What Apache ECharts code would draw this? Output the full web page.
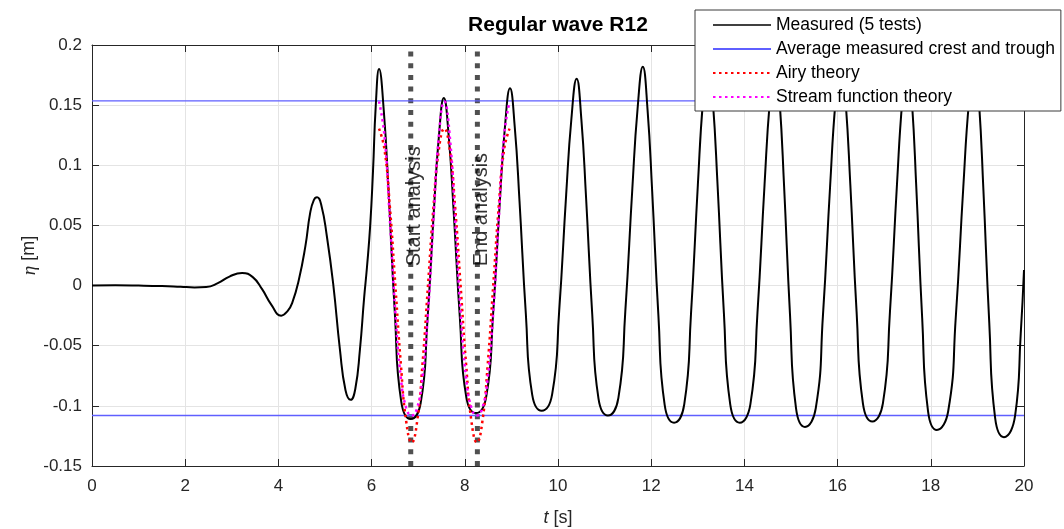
<!DOCTYPE html>
<html><head><meta charset="utf-8">
<script src="https://cdn.jsdelivr.net/npm/echarts@6/dist/echarts.min.js"></script>
<style>html,body{margin:0;padding:0;background:#fff}#c{width:1064px;height:529px}</style>
</head><body><div id="c"></div>
<script>
// ---- data ----
const measuredT = [0,0.5,1.0,1.5,1.9,2.2,2.45,2.7,2.95,3.22,3.45,3.65,3.85,4.06,4.2,4.3,4.44,4.58,4.68,4.76,4.83,4.92,5.04,5.18,5.32,5.44,5.55,5.65,5.75,5.84,5.9,5.97,6.03,6.09,6.16,
6.262,6.364,6.5,6.636,6.84,7.053,7.195,7.337,7.444,7.55,7.654,7.757,7.895,8.033,8.24,8.459,8.605,8.751,8.861,8.97,
9.072,9.174,9.31,9.446,9.65,9.875,10.025,10.175,10.288,10.4,10.501,10.601,10.735,10.869,11.07,11.295,11.445,11.595,11.708,11.82,
11.921,12.021,12.155,12.289,12.49,12.709,12.855,13.001,13.111,13.22,13.322,13.424,13.56,13.696,13.9,14.128,14.28,14.432,14.546,14.66,
14.756,14.852,14.98,15.108,15.3,15.531,15.685,15.839,15.955,16.07,16.171,16.273,16.408,16.543,16.745,16.972,17.123,17.274,17.388,17.5,
17.595,17.689,17.815,17.941,18.13,18.373,18.535,18.697,18.819,18.94,19.035,19.129,19.255,19.381,19.57,19.81,19.93,20.0];
const measuredEta = [0,0.0002,0,-0.0004,-0.001,-0.0015,-0.0012,0.002,0.0075,0.0105,0.007,-0.003,-0.016,-0.025,-0.021,-0.014,0.005,0.033,0.06,0.071,0.0734,0.067,0.041,0.0,-0.053,-0.087,-0.095,-0.086,-0.053,-0.01,0.015,0.05,0.095,0.15,0.18,
0.1451,0.0782,-0.0237,-0.0965,-0.111,-0.0977,-0.0309,0.0626,0.124,0.156,0.1246,0.0643,-0.0274,-0.0929,-0.106,-0.0925,-0.025,0.0695,0.1316,0.164,
0.1318,0.0702,-0.0236,-0.0906,-0.104,-0.0902,-0.0212,0.0754,0.1389,0.172,0.1384,0.074,-0.024,-0.094,-0.108,-0.0935,-0.021,0.0805,0.1472,0.182,
0.1465,0.0784,-0.0252,-0.0992,-0.114,-0.0988,-0.0228,0.0836,0.1535,0.19,0.1535,0.0836,-0.0228,-0.0988,-0.114,-0.0988,-0.0228,0.0836,0.1535,0.19,
0.1531,0.0824,-0.0252,-0.1021,-0.1175,-0.1021,-0.0252,0.0824,0.1531,0.19,0.1536,0.084,-0.0221,-0.0979,-0.113,-0.0979,-0.0221,0.084,0.1536,0.19,
0.1528,0.0815,-0.027,-0.1045,-0.12,-0.1045,-0.027,0.0815,0.1528,0.19,0.1521,0.0794,-0.0312,-0.1102,-0.126,-0.108,-0.04,0.013];

const avgCrest = 0.1535;
const avgTrough = -0.108;

const theoryT = [6.16,6.277,6.393,6.51,6.627,6.743,6.86,6.977,7.093,7.21,7.327,7.443,7.56,7.677,7.793,7.91,8.027,8.143,8.26,8.377,8.493,8.61,8.727,8.843,8.96];
const airyEta = [0.1305,0.113,0.065,0,-0.065,-0.113,-0.1305,-0.113,-0.065,0,0.065,0.113,0.1305,0.113,0.065,0,-0.065,-0.113,-0.1305,-0.113,-0.065,0,0.065,0.113,0.1305];
const streamEta = [0.153,0.1243,0.054,-0.0225,-0.0765,-0.1018,-0.108,-0.1018,-0.0765,-0.0225,0.054,0.1243,0.153,0.1243,0.054,-0.0225,-0.0765,-0.1018,-0.108,-0.1018,-0.0765,-0.0225,0.054,0.1243,0.153];

const analysisT = [6.84, 8.27];
const analysisLabels = ['Start analysis', 'End analysis'];

const xMin = 0, xMax = 20, xStep = 2;
const yMin = -0.15, yMax = 0.2, yStep = 0.05;

const seriesNames = ['Measured (5 tests)', 'Average measured crest and trough', 'Airy theory', 'Stream function theory'];

// ---- chart ----
const FONT = "'Liberation Sans', Arial, Helvetica, sans-serif";
const pairs = (xs, ys) => xs.map((x, i) => [x, ys[i]]);
const INK = '#262626';
const BLUE = '#5f5fff';

const chart = echarts.init(document.getElementById('c'), null, {renderer: 'canvas'});

const axisCommon = {
  axisLine: {show: true, onZero: false, lineStyle: {color: INK, width: 1}},
  axisTick: {show: true, inside: true, length: 7, lineStyle: {color: INK}},
};

const option = {
  animation: false,
  backgroundColor: '#fff',
  textStyle: {fontFamily: FONT},
  title: {
    text: 'Regular wave R12', left: 558, top: 15, textAlign: 'center', padding: 0,
    textStyle: {fontFamily: FONT, fontWeight: 'bold', fontSize: 21, color: '#000'}
  },
  grid: {left: 92, right: 40, top: 45, bottom: 63, containLabel: false, outerBoundsMode: 'none', show: false},
  legend: {
    orient: 'vertical', left: 695, top: 10,
    padding: [6, 6, 5, 17], itemGap: 6, itemWidth: 58, itemHeight: 18,
    backgroundColor: '#fff', borderColor: '#3a3a3a', borderWidth: 1, borderRadius: 0,
    itemStyle: {opacity: 0, color: 'transparent', borderWidth: 0},
    textStyle: {fontSize: 17.5, color: '#000', fontFamily: FONT, lineHeight: 18},
    data: [
      {name: seriesNames[0], lineStyle: {width: 1.5}},
      {name: seriesNames[1]},
      {name: seriesNames[2]},
      {name: seriesNames[3]}
    ]
  },
  xAxis: [
    Object.assign({}, axisCommon, {
      type: 'value', min: xMin, max: xMax, interval: xStep, position: 'bottom',
      axisLabel: {fontSize: 17, color: INK, margin: 12, fontFamily: FONT},
      splitLine: {show: true, lineStyle: {color: '#e4e4e4', width: 1}},
      name: '{i|t} [s]', nameLocation: 'middle', nameGap: 43,
      nameTextStyle: {fontSize: 18, color: INK, fontFamily: FONT,
        rich: {i: {fontStyle: 'italic', fontSize: 18, color: INK, fontFamily: FONT}}}
    }),
    Object.assign({}, axisCommon, {
      type: 'value', min: xMin, max: xMax, interval: xStep, position: 'top',
      axisLabel: {show: false}, splitLine: {show: false}
    })
  ],
  yAxis: [
    Object.assign({}, axisCommon, {
      type: 'value', min: yMin, max: yMax, interval: yStep, position: 'left',
      axisLabel: {fontSize: 17, color: INK, margin: 10, fontFamily: FONT,
        formatter: v => String(+v.toFixed(2))},
      splitLine: {show: true, lineStyle: {color: '#e4e4e4', width: 1}},
      name: '{i|η} [m]', nameLocation: 'middle', nameGap: 53, nameRotate: 90, nameMoveOverlap: false,
      nameTextStyle: {fontSize: 18, color: INK, fontFamily: FONT,
        rich: {i: {fontStyle: 'italic', fontSize: 19, color: INK, fontFamily: "'Liberation Serif', 'DejaVu Serif', serif"}}}
    }),
    Object.assign({}, axisCommon, {
      type: 'value', min: yMin, max: yMax, interval: yStep, position: 'right',
      axisLabel: {show: false}, splitLine: {show: false}
    })
  ],
  series: [
    // analysis markers
    ...analysisT.map((t, i) => ({
      type: 'line', name: 'marker' + i, data: [[t, yMin], [t, yMax]],
      symbol: 'none', silent: true, z: 1,
      lineStyle: {color: '#505050', width: 5, type: [5, 6.7], cap: 'butt'}
    })),
    {
      type: 'line', name: seriesNames[1],
      data: [[xMin, avgCrest], [xMax, avgCrest], [null, null], [xMin, avgTrough], [xMax, avgTrough]],
      connectNulls: false,
      symbol: 'none', z: 2, itemStyle: {color: BLUE}, lineStyle: {color: BLUE, width: 1.3}
    },
    {
      type: 'line', name: seriesNames[0], data: pairs(measuredT, measuredEta),
      symbol: 'none', smooth: 0.5, z: 3,
      itemStyle: {color: '#000'},
      lineStyle: {color: '#000', width: 2}
    },
    {
      type: 'line', name: seriesNames[2], data: pairs(theoryT, airyEta),
      symbol: 'none', smooth: 0.5, z: 4, itemStyle: {color: '#ff0000'},
      lineStyle: {color: '#ff0000', width: 2.5, type: [2.5, 3.5], cap: 'butt'}
    },
    {
      type: 'line', name: seriesNames[3], data: pairs(theoryT, streamEta),
      symbol: 'none', smooth: 0.5, z: 5, itemStyle: {color: '#ff00ff'},
      lineStyle: {color: '#ff00ff', width: 2.5, type: [2.5, 3.5], cap: 'butt'}
    },
    // analysis labels
    ...analysisT.map((t, i) => ({
      type: 'scatter', name: 'label' + i, data: [[t + (i === 0 ? 0.09 : 0.08), 0.016]],
      symbolSize: 0, silent: true, z: 6,
      label: {show: true, position: 'inside', rotate: 90, align: 'left', verticalAlign: 'middle',
        formatter: analysisLabels[i], fontSize: 20, color: '#000', fontFamily: FONT}
    }))
  ]
};
chart.setOption(option);
</script>
</body></html>
